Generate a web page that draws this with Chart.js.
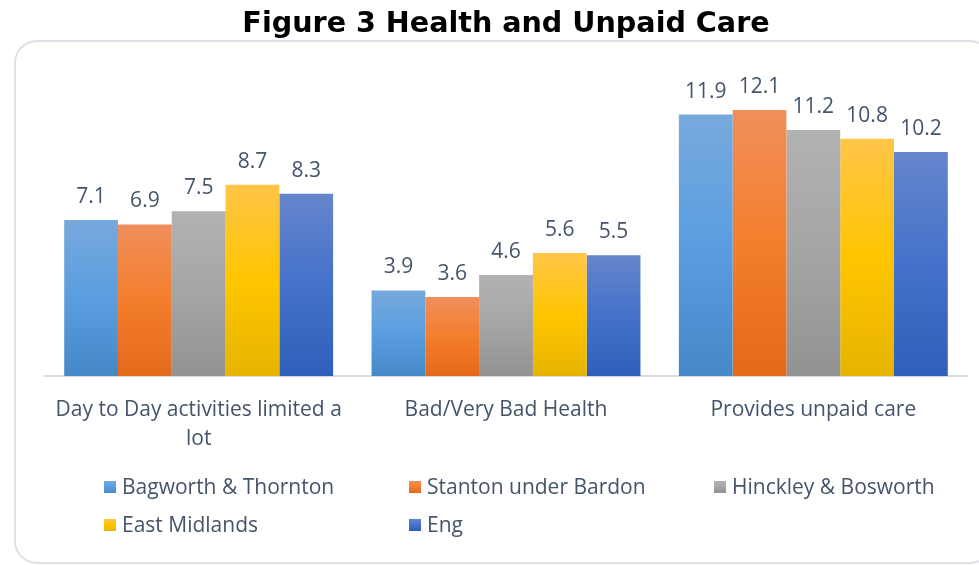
<!DOCTYPE html>
<html>
<head>
<meta charset="utf-8">
<title>Figure 3 Health and Unpaid Care</title>
<script src="https://cdn.jsdelivr.net/npm/chart.js@4.4.1/dist/chart.umd.min.js"></script>
<style>
    html, body { margin: 0; padding: 0; background: #ffffff; }
    #wrap { position: relative; width: 979px; height: 565px; }
</style>
</head>
<body>
<div id="wrap"><canvas id="chart" width="979" height="565"></canvas></div>
<script>
// Chart data
const categories = [
    ['Day to Day activities limited a', 'lot'],
    'Bad/Very Bad Health',
    'Provides unpaid care'
];
const seriesNames = ['Bagworth & Thornton', 'Stanton under Bardon', 'Hinckley & Bosworth', 'East Midlands', 'Eng'];
const bagworthThornton = [7.1, 3.9, 11.9];
const stantonUnderBardon = [6.9, 3.6, 12.1];
const hinckleyBosworth = [7.5, 4.6, 11.2];
const eastMidlands = [8.7, 5.6, 10.8];
const england = [8.3, 5.5, 10.2];
const seriesValues = [bagworthThornton, stantonUnderBardon, hinckleyBosworth, eastMidlands, england];

// gradient stops per series: top, middle, bottom
const palette = [
    ['#77a9dc', '#5a9ee0', '#4588c8'],
    ['#f08f5c', '#f47e2c', '#e3691b'],
    ['#b2b2b2', '#a5a5a5', '#929292'],
    ['#ffc549', '#ffc500', '#e6b400'],
    ['#6685cc', '#4472ca', '#2f5fb9']
];

const TEXT = '#44546a';
const FONT = "'Open Sans', 'Noto Sans', sans-serif";

function makeGradient(c2d, top, bottom, stops) {
    const g = c2d.createLinearGradient(0, top, 0, bottom);
    g.addColorStop(0, stops[0]);
    g.addColorStop(0.5, stops[1]);
    g.addColorStop(1, stops[2]);
    return g;
}

function barFill(index) {
    return function(ctx) {
        const chart = ctx.chart;
        const stops = palette[index];
        if (!chart.chartArea || ctx.type !== 'data') return stops[1];
        const y = chart.scales.y;
        const top = y.getPixelForValue(ctx.raw);
        const bottom = y.getPixelForValue(0);
        if (!isFinite(top) || !isFinite(bottom) || top === bottom) return stops[1];
        return makeGradient(chart.ctx, top, bottom, stops);
    };
}

// Rounded frame behind the plot
const framePlugin = {
    id: 'frame',
    beforeDraw(chart) {
        const c = chart.ctx;
        const x = 15, y = 41, w = 977, h = 522, r = 22;
        c.save();
        c.strokeStyle = '#dde1e8';
        c.lineWidth = 2;
        c.beginPath();
        c.moveTo(x + r, y);
        c.lineTo(x + w - r, y);
        c.arcTo(x + w, y, x + w, y + r, r);
        c.lineTo(x + w, y + h - r);
        c.arcTo(x + w, y + h, x + w - r, y + h, r);
        c.lineTo(x + r, y + h);
        c.arcTo(x, y + h, x, y + h - r, r);
        c.lineTo(x, y + r);
        c.arcTo(x, y, x + r, y, r);
        c.stroke();
        c.restore();
    }
};

// Value labels above the bars
const valueLabels = {
    id: 'valueLabels',
    afterDatasetsDraw(chart) {
        const c = chart.ctx;
        c.save();
        c.font = '21px ' + FONT;
        c.fillStyle = TEXT;
        c.textAlign = 'center';
        c.textBaseline = 'alphabetic';
        chart.data.datasets.forEach((ds, i) => {
            const meta = chart.getDatasetMeta(i);
            meta.data.forEach((bar, j) => {
                c.fillText(ds.data[j].toFixed(1), bar.x, bar.y - 17);
            });
        });
        c.restore();
    }
};

// Legend in three fixed columns, like the original
const columnLegend = {
    id: 'columnLegend',
    afterDraw(chart) {
        const c = chart.ctx;
        const cols = [104, 409, 714];
        const rows = [487, 525];
        c.save();
        c.font = '21px ' + FONT;
        c.textAlign = 'left';
        c.textBaseline = 'middle';
        chart.data.datasets.forEach((ds, i) => {
            const x = cols[i % 3];
            const y = rows[Math.floor(i / 3)];
            c.fillStyle = makeGradient(c, y - 6, y + 6, palette[i]);
            c.fillRect(x, y - 6, 12, 12);
            c.fillStyle = TEXT;
            c.fillText(ds.label, x + 18, y + 1);
        });
        c.restore();
    }
};

const datasets = seriesNames.map((name, i) => ({
    label: name,
    data: seriesValues[i],
    backgroundColor: barFill(i),
    borderWidth: 0,
    categoryPercentage: 0.875,
    barPercentage: 1.0
}));

new Chart(document.getElementById('chart'), {
    type: 'bar',
    data: { labels: categories, datasets: datasets },
    options: {
        responsive: false,
        animation: false,
        events: [],
        layout: { padding: { left: 45, right: 12, top: 0, bottom: 92 } },
        plugins: {
            legend: { display: false },
            tooltip: { enabled: false },
            title: {
                display: true,
                text: 'Figure 3 Health and Unpaid Care',
                color: '#000000',
                font: { family: "'DejaVu Sans', Verdana, sans-serif", size: 28.6, weight: 'bold', lineHeight: 1.2 },
                padding: { top: 7, bottom: 27 }
            }
        },
        scales: {
            x: {
                grid: { display: false, drawTicks: false },
                border: { display: true, color: '#d9dde3', width: 2 },
                ticks: {
                    color: TEXT,
                    font: { family: FONT, size: 21, lineHeight: 1.4 },
                    padding: 19,
                    maxRotation: 0,
                    autoSkip: false
                }
            },
            y: {
                display: false,
                min: 0,
                max: 14
            }
        }
    },
    plugins: [framePlugin, valueLabels, columnLegend]
});
</script>
</body>
</html>
